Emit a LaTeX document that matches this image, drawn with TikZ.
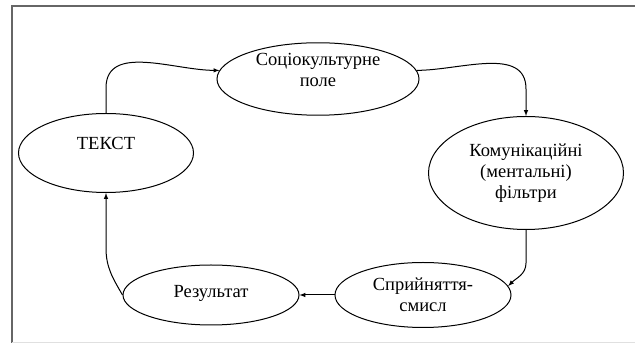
\documentclass[tikz,border=0pt]{standalone}
\usepackage{fontspec}
\setmainfont{Liberation Serif}
\usetikzlibrary{arrows,shapes.geometric}
\tikzset{oval/.style={draw, ellipse, line width=1pt, align=center, inner sep=0pt, font=\rmfamily\fontsize{18.5}{21}\selectfont}}

\begin{document}
\begin{tikzpicture}[x=1pt,y=1pt,>=latex,line width=1pt]
	\useasboundingbox (0,0) rectangle (635,345);
	\draw [black!60, line width=1.2pt] (12,2) -- (12,339) -- (635,339);
	\draw [black!12, line width=1pt] (12,2) -- (635,2);
	\node [oval, minimum width=175, minimum height=79, text depth=20pt] (v1) at (106,192) {ТЕКСТ};
	\node [oval, minimum width=202, minimum height=61, text depth=18pt] (v2) at (318,266) {Соціокультурне\\поле};
	\node [oval, minimum width=195, minimum height=113] (v3) at (526,172) {Комунікаційні\\(ментальні)\\фільтри};
	\node [oval, minimum width=176, minimum height=65] (v4) at (423,50) {Сприйняття-\\смисл};
	\node [oval, minimum width=176, minimum height=60, text depth=8pt] (v5) at (211,50) {Результат};
	\draw [->] (v1.north) -- ++(0,25) to [out=90,in=180] (v2.175);
	\draw [->] (v2.5) to [out=0,in=90] ([yshift=27pt]v3.north) -- (v3.north);
	\draw [->] (v3.south) -- ++(0,-33) to [out=270,in=45] (v4.6);
	\draw [->] (v4.west) -- (v5.east);
	\draw [->] (v5.west) to [out=120,in=270] ([yshift=-55pt]v1.south) -- (v1.south);
\end{tikzpicture}
\end{document}
